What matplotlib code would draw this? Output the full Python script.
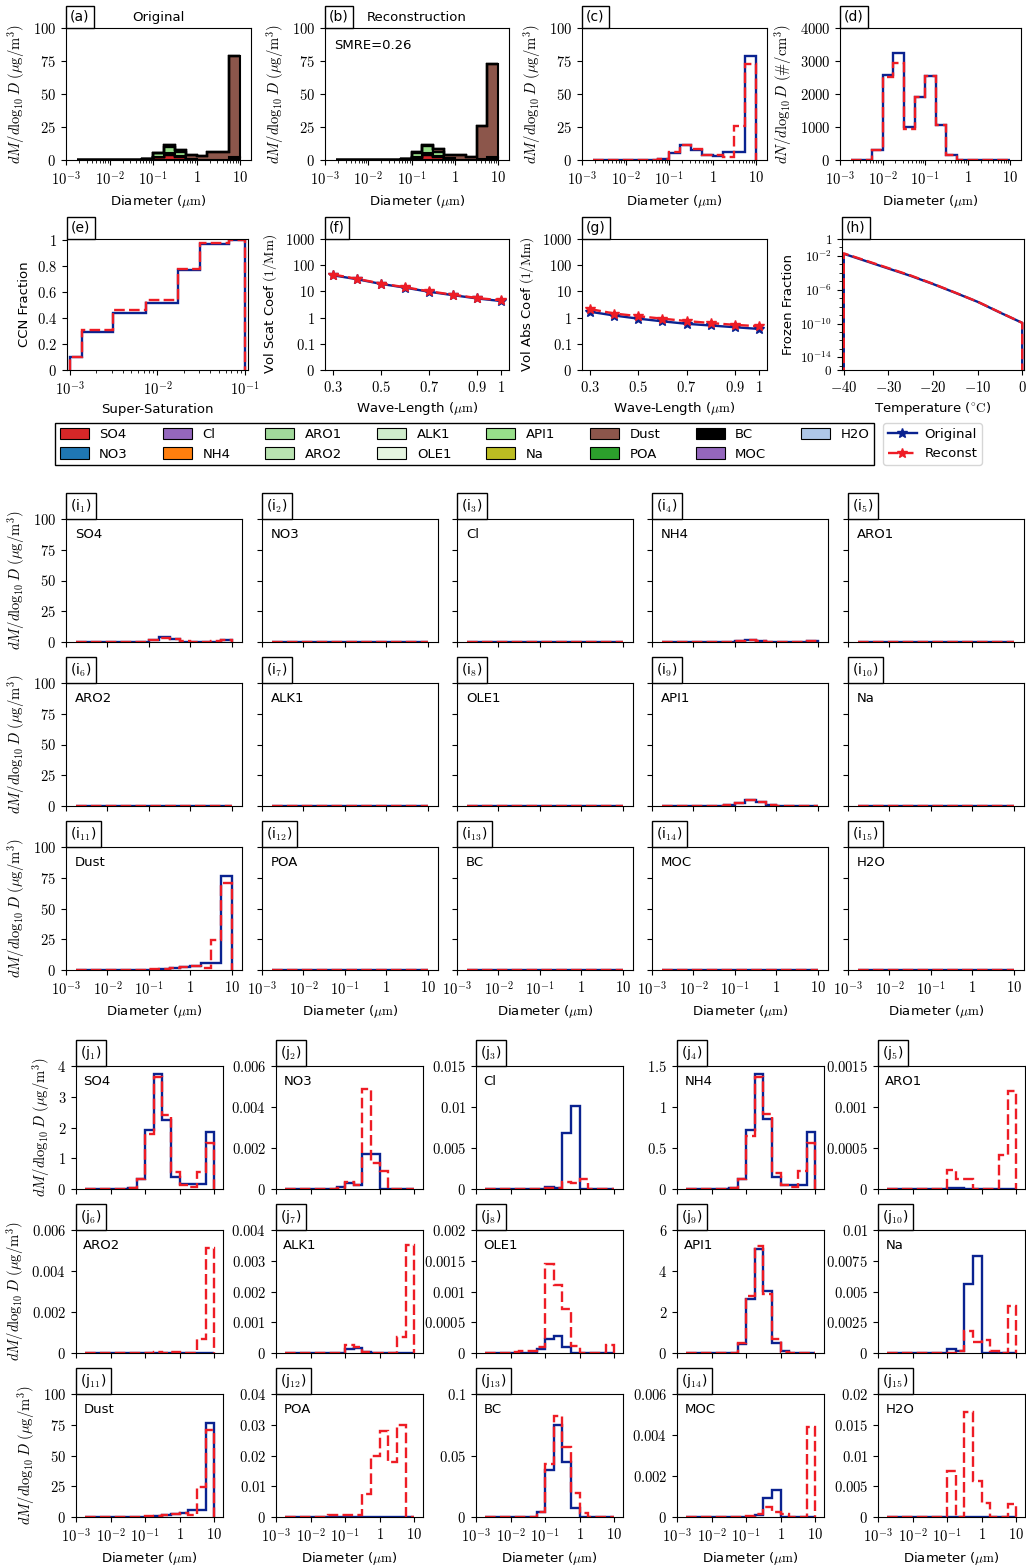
import numpy as np
import matplotlib
matplotlib.use('Agg')
import matplotlib.pyplot as plt
from matplotlib import ticker
from matplotlib.patches import Patch
from matplotlib.lines import Line2D
from matplotlib.offsetbox import AnchoredText

plt.rcParams['font.family'] = 'DejaVu Sans'
plt.rcParams['mathtext.fontset'] = 'cm'
plt.rcParams['font.size'] = 8
plt.rcParams['xtick.labelsize'] = 10.5
plt.rcParams['ytick.labelsize'] = 10.5

W, H = 1026, 1567
BLUE = '#0a2290'
RED = '#ee1c25'

# diameter bins (um): 4 per decade from 10^-2.75 to 10
edges = 10 ** np.linspace(-2.75, 1.0, 16)

species = ['SO4', 'NO3', 'Cl', 'NH4', 'ARO1', 'ARO2', 'ALK1', 'OLE1',
           'API1', 'Na', 'Dust', 'POA', 'BC', 'MOC', 'H2O']
colors = ['#d62728', '#1f77b4', '#9467bd', '#ff7f0e', '#a1d99b', '#b9e3b1',
          '#cfeccb', '#e5f5e0', '#98df8a', '#bcbd22', '#8c564b', '#2ca02c',
          '#000000', '#9467bd', '#aec7e8']

# mass distributions dM/dlog10D per species (ug/m3), original and reconstructed
so4_orig = [0, 0, 0, 0, 0, 0.02, 0.31, 1.93, 3.73, 2.24, 0.40, 0.15, 0.15, 0.15, 1.86]
so4_rec = [0, 0, 0, 0, 0, 0.02, 0.33, 1.80, 3.65, 2.41, 0.56, 0.13, 0.08, 0.56, 1.50]
no3_orig = [0, 0, 0, 0, 0, 0, 0.00008, 0.0003, 0.0002, 0.00169, 0.00169, 0, 0, 0, 0]
no3_rec = [0, 0, 0, 0, 0, 0, 0.00003, 0.00034, 0.0002, 0.0049, 0.00128, 0.0009, 0, 0, 0]
cl_orig = [0, 0, 0, 0, 0, 0, 0, 0.0002, 0.0001, 0.0068, 0.0101, 0, 0, 0, 0]
cl_rec = [0, 0, 0, 0, 0, 0, 0, 0.0001, 0.0001, 0.0008, 0.0007, 0.0012, 0, 0, 0]
nh4_orig = [0, 0, 0, 0, 0, 0.01, 0.12, 0.72, 1.40, 0.85, 0.15, 0.05, 0.05, 0.05, 0.69]
nh4_rec = [0, 0, 0, 0, 0, 0.01, 0.12, 0.65, 1.37, 0.91, 0.20, 0.05, 0.03, 0.22, 0.56]
aro1_orig = [0, 0, 0, 0, 0, 0, 0, 0.00001, 0.00001, 0.000005, 0, 0, 0, 0, 0]
aro1_rec = [0, 0, 0, 0, 0, 0, 0, 0.00023, 0.00012, 0.00012, 0, 0, 0, 0.00041, 0.00119]
aro2_orig = [0, 0, 0, 0, 0, 0, 0, 0.00001, 0.00001, 0, 0, 0, 0, 0, 0]
aro2_rec = [0, 0, 0, 0, 0, 0, 0, 0, 0.00004, 0, 0.00004, 0, 0, 0.0007, 0.0051]
alk1_orig = [0, 0, 0, 0, 0, 0, 0.00001, 0.00013, 0.00015, 0.00004, 0, 0, 0, 0, 0]
alk1_rec = [0, 0, 0, 0, 0, 0, 0.00001, 0.00025, 0.0002, 0.00002, 0, 0, 0, 0.00052, 0.0035]
ole1_orig = [0, 0, 0, 0, 0, 0, 0.00007, 0.00023, 0.00028, 0.0001, 0, 0, 0, 0, 0]
ole1_rec = [0, 0, 0, 0.00002, 0.00003, 0.00003, 0.0001, 0.00145, 0.0011, 0.00072, 0.00012, 0, 0, 0, 0.00013]
api1_orig = [0, 0, 0, 0, 0, 0.02, 0.42, 2.62, 5.09, 3.04, 0.50, 0.11, 0, 0, 0]
api1_rec = [0, 0, 0, 0, 0, 0.02, 0.47, 2.80, 5.22, 2.86, 0.67, 0.06, 0.02, 0, 0]
na_orig = [0, 0, 0, 0, 0, 0, 0, 0.0003, 0.0002, 0.0056, 0.0079, 0, 0, 0, 0]
na_rec = [0, 0, 0, 0, 0, 0, 0, 0, 0.0002, 0.0018, 0.0009, 0.00105, 0.0002, 0, 0.0038]
dust_orig = [0, 0, 0, 0, 0, 0, 0.05, 0.3, 0.8, 1.5, 2.5, 3.0, 5.7, 5.7, 76.4]
dust_rec = [0, 0, 0, 0, 0, 0, 0.1, 0.5, 0.8, 1.9, 2.6, 3.3, 2.0, 24.7, 71.0]
poa_orig = [0] * 15
poa_rec = [0, 0, 0, 0, 0, 0.0005, 0.0008, 0.0006, 0.0005, 0.0075, 0.020, 0.028, 0.018, 0.030, 0]
bc_orig = [0, 0, 0, 0, 0, 0, 0.004, 0.038, 0.0745, 0.045, 0.007, 0, 0, 0, 0]
bc_rec = [0, 0, 0, 0, 0, 0, 0.004, 0.043, 0.082, 0.057, 0.0196, 0.003, 0, 0, 0]
moc_orig = [0, 0, 0, 0, 0, 0, 0, 0.00002, 0.0001, 0.00093, 0.00132, 0, 0, 0, 0]
moc_rec = [0, 0, 0, 0, 0, 0, 0, 0.00003, 0.00015, 0.00047, 0.00023, 0.00013, 0, 0, 0.00437]
h2o_orig = [0] * 15
h2o_rec = [0, 0, 0, 0, 0, 0, 0, 0.0074, 0, 0.017, 0.0059, 0.0022, 0, 0, 0.0021]

mass_orig = [so4_orig, no3_orig, cl_orig, nh4_orig, aro1_orig, aro2_orig, alk1_orig,
             ole1_orig, api1_orig, na_orig, dust_orig, poa_orig, bc_orig, moc_orig, h2o_orig]
mass_rec = [so4_rec, no3_rec, cl_rec, nh4_rec, aro1_rec, aro2_rec, alk1_rec,
            ole1_rec, api1_rec, na_rec, dust_rec, poa_rec, bc_rec, moc_rec, h2o_rec]

# number distribution dN/dlog10D (#/cm3)
num_orig = [0, 0, 314, 2572, 3230, 1013, 1894, 2542, 1053, 152, 10, 0, 0, 0, 0]
num_rec = [0, 0, 300, 2520, 2947, 942, 1894, 2532, 1053, 140, 10, 0, 0, 0, 0]

# CCN activated fraction vs supersaturation
ss_edges = [1e-3, 1.38e-3, 3.1e-3, 7.5e-3, 1.73e-2, 3.1e-2, 6.5e-2, 1e-1]
ccn_orig = [0.10, 0.29, 0.44, 0.52, 0.77, 0.975, 1.0]
ccn_rec = [0.10, 0.31, 0.46, 0.54, 0.775, 0.98, 1.0]

# optical properties (1/Mm)
wavelength = [0.3, 0.4, 0.5, 0.6, 0.7, 0.8, 0.9, 1.0]
scat_orig = [41, 29, 19.3, 13.9, 9.7, 7.2, 5.4, 4.3]
scat_rec = [44, 30, 20, 14.4, 10.1, 7.5, 5.6, 4.6]
abs_orig = [1.66, 1.2, 0.91, 0.72, 0.58, 0.50, 0.43, 0.37]
abs_rec = [2.1, 1.43, 1.13, 0.91, 0.74, 0.62, 0.53, 0.47]

# immersion freezing fraction vs temperature
temps = [-40, -35, -30, -25, -20, -15, -10, -5, 0]
ff_orig = [1.78e-2, 2.4e-3, 3.2e-4, 4.3e-5, 4.7e-6, 4.3e-7, 3.7e-8, 2.0e-9, 1.2e-10]
ff_rec = [2.0e-2, 2.7e-3, 3.6e-4, 4.8e-5, 5.0e-6, 4.5e-7, 3.8e-8, 2.1e-9, 1.2e-10]

MASS_LABEL = r'$dM/d\log_{10}D\ (\mu\mathrm{g/m}^3)$'
DIAM_LABEL = r'Diameter ($\mu\mathrm{m}$)'
DTICKS = [1e-3, 1e-2, 1e-1, 1, 10]
DLABELS = [r'$10^{-3}$', r'$10^{-2}$', r'$10^{-1}$', r'$1$', r'$10$']
LBL = 9.5

fig = plt.figure(figsize=(W / 100, H / 100), dpi=100)


def add_ax(left, top, width, height):
    return fig.add_axes([left / W, 1 - (top + height) / H, width / W, height / H])


def tag(ax, s):
    at = AnchoredText(s, loc='lower left', bbox_to_anchor=(0, 1),
                      bbox_transform=ax.transAxes, borderpad=0, pad=0.3,
                      prop=dict(size=10))
    at.patch.set_boxstyle('square,pad=0')
    at.patch.set_linewidth(1.0)
    at.set_clip_on(False)
    ax.add_artist(at)


num_fmt = ticker.FuncFormatter(lambda v, p: '$%g$' % round(v, 10))


def diam_axis(ax, minor=True, labels=True):
    ax.set_xscale('log')
    ax.set_xlim(1e-3, 10 ** 1.25)
    ax.xaxis.set_major_locator(ticker.FixedLocator(DTICKS))
    if labels:
        ax.xaxis.set_major_formatter(ticker.FixedFormatter(DLABELS))
        ax.set_xlabel(DIAM_LABEL, fontsize=LBL)
    else:
        ax.xaxis.set_major_formatter(ticker.NullFormatter())
    if minor:
        ax.xaxis.set_minor_locator(ticker.LogLocator(base=10, subs=np.arange(2, 10), numticks=20))
    else:
        ax.xaxis.set_minor_locator(ticker.NullLocator())
    ax.xaxis.set_minor_formatter(ticker.NullFormatter())


def pair(ax, x_edges, a, b):
    ax.stairs(a, x_edges, baseline=0, color=BLUE, lw=1.7)
    ax.stairs(b, x_edges, baseline=0, color=RED, lw=1.7, ls=(0, (4.5, 1.8)))


def stacked(ax, parts):
    bottom = np.zeros(len(edges) - 1)
    for vals, c in zip(parts, colors):
        top = bottom + np.asarray(vals)
        ax.stairs(top, edges, baseline=bottom, fill=True, facecolor=c,
                  edgecolor='k', lw=1.5)
        bottom = top


tot_orig = np.sum(mass_orig, axis=0)
tot_rec = np.sum(mass_rec, axis=0)

# ---- row 1: mass and number distributions
top1, h1 = 28, 132
ax_a = add_ax(66, top1, 185, h1)
ax_b = add_ax(325, top1, 184, h1)
ax_c = add_ax(582, top1, 185, h1)
ax_d = add_ax(840, top1, 181, h1)

stacked(ax_a, mass_orig)
ax_a.set_title('Original', fontsize=LBL, pad=5)
stacked(ax_b, mass_rec)
ax_b.set_title('Reconstruction', fontsize=LBL, pad=5)
ax_b.text(0.05, 0.92, 'SMRE=0.26', transform=ax_b.transAxes, va='top', fontsize=LBL)
pair(ax_c, edges, tot_orig, tot_rec)
pair(ax_d, edges, num_orig, num_rec)

for ax, lab in zip([ax_a, ax_b, ax_c, ax_d], ['(a)', '(b)', '(c)', '(d)']):
    diam_axis(ax)
    tag(ax, lab)
    ax.yaxis.set_major_formatter(num_fmt)
for ax in [ax_a, ax_b, ax_c]:
    ax.set_ylim(0, 100)
    ax.set_yticks([0, 25, 50, 75, 100])
    ax.set_ylabel(MASS_LABEL, fontsize=10.5)
ax_d.set_ylim(0, 4000)
ax_d.set_yticks([0, 1000, 2000, 3000, 4000])
ax_d.set_ylabel(r'$dN/d\log_{10}D\ (\#/\mathrm{cm}^3)$', fontsize=10.5)

# ---- row 2: CCN, optics, freezing
top2, h2 = 239, 131
ax_e = add_ax(67, top2, 181, h2)
ax_f = add_ax(325, top2, 184, h2)
ax_g = add_ax(582, top2, 185, h2)
ax_h = add_ax(842, top2, 182, h2)

pair(ax_e, ss_edges, ccn_orig, ccn_rec)
ax_e.set_xscale('log')
ax_e.set_xlim(0.93e-3, 1.08e-1)
ax_e.set_ylim(0, 1.01)
ax_e.set_xticks([1e-3, 1e-2, 1e-1])
ax_e.xaxis.set_major_formatter(ticker.FixedFormatter([r'$10^{-3}$', r'$10^{-2}$', r'$10^{-1}$']))
ax_e.set_yticks([0, 0.2, 0.4, 0.6, 0.8, 1.0])
ax_e.yaxis.set_major_formatter(num_fmt)
ax_e.set_xlabel('Super-Saturation', fontsize=LBL)
ax_e.set_ylabel('CCN Fraction', fontsize=LBL)
tag(ax_e, '(e)')

for ax, yo, yr, lab, yl in [(ax_f, scat_orig, scat_rec, '(f)', r'Vol Scat Coef $(1/\mathrm{Mm})$'),
                            (ax_g, abs_orig, abs_rec, '(g)', r'Vol Abs Coef $(1/\mathrm{Mm})$')]:
    ax.plot(wavelength, yo, color=BLUE, lw=1.7, marker='*', ms=7.5)
    ax.plot(wavelength, yr, color=RED, lw=1.7, ls=(0, (4.5, 1.8)), marker='*', ms=7.5)
    ax.set_yscale('log')
    ax.set_ylim(0.01, 1000)
    ax.yaxis.set_major_locator(ticker.FixedLocator([0.01, 0.1, 1, 10, 100, 1000]))
    ax.yaxis.set_major_formatter(ticker.FixedFormatter(['$0$', '$0.1$', '$1$', '$10$', '$100$', '$1000$']))
    ax.yaxis.set_minor_locator(ticker.NullLocator())
    ax.set_xticks([0.3, 0.5, 0.7, 0.9, 1.0])
    ax.xaxis.set_major_formatter(num_fmt)
    ax.set_xlabel(r'Wave-Length ($\mu\mathrm{m}$)', fontsize=LBL)
    ax.set_ylabel(yl, fontsize=LBL)
    tag(ax, lab)

for ff, c, ls in [(ff_orig, BLUE, '-'), (ff_rec, RED, (0, (4.5, 1.8)))]:
    ax_h.plot([temps[0]] + temps + [temps[-1]], [0] + ff + [0], color=c, lw=1.7, ls=ls)
ax_h.set_yscale('log', nonpositive='clip')
ax_h.set_ylim(10 ** -15.5, 1)
ax_h.set_xlim(-40.4, 0.4)
ax_h.yaxis.set_major_locator(ticker.FixedLocator([10 ** -15.5, 1e-14, 1e-10, 1e-6, 1e-2, 1]))
ax_h.yaxis.set_major_formatter(ticker.FixedFormatter(
    ['$0$', r'$10^{-14}$', r'$10^{-10}$', r'$10^{-6}$', r'$10^{-2}$', '$1$']))
ax_h.yaxis.set_minor_locator(ticker.LogLocator(base=10, subs=(1.0,), numticks=40))
ax_h.yaxis.set_minor_formatter(ticker.NullFormatter())
ax_h.tick_params(axis='y', labelsize=9.5)
ax_h.set_xticks([-40, -30, -20, -10, 0])
ax_h.xaxis.set_major_formatter(num_fmt)
ax_h.set_xlabel(r'Temperature ($^{\circ}\mathrm{C}$)', fontsize=LBL)
ax_h.set_ylabel('Frozen Fraction', fontsize=LBL)
tag(ax_h, '(h)')

# ---- legends
sp_handles = [Patch(facecolor=c, edgecolor='k', lw=0.8) for c in colors]
fig.legend(sp_handles, species, loc='upper left', bbox_to_anchor=(55 / W, 1 - 423 / H),
           ncol=8, fancybox=False, edgecolor='k', framealpha=1, borderaxespad=0,
           handlelength=2.2, handleheight=0.95, columnspacing=2.65, fontsize=9.5,
           borderpad=0.35, labelspacing=0.5)
ln_handles = [Line2D([], [], color=BLUE, lw=1.7, marker='*', ms=7.5),
              Line2D([], [], color=RED, lw=1.7, ls=(0, (4.5, 1.8)), marker='*', ms=7.5)]
fig.legend(ln_handles, ['Original', 'Reconst'], loc='upper left',
           bbox_to_anchor=(883 / W, 1 - 423 / H), borderaxespad=0, fontsize=9.5,
           handlelength=2.2, borderpad=0.35, labelspacing=0.5, handletextpad=0.6)

# ---- i panels: each species on a common 0-100 scale
i_lefts = [66, 262, 457, 652, 848]
i_tops = [519, 683, 847]
j_lefts = [76, 276, 476, 677, 878]
j_tops = [1066, 1230, 1394]
j_ymax = [4, 0.006, 0.015, 1.5, 0.0015, 0.006, 0.004, 0.002, 6, 0.01, 100, 0.04, 0.1, 0.006, 0.02]
j_step = [1, 0.002, 0.005, 0.5, 0.0005, 0.002, 0.001, 0.0005, 2, 0.0025, 25, 0.01, 0.05, 0.002, 0.005]

for k, name in enumerate(species):
    r, cidx = divmod(k, 5)
    ax = add_ax(i_lefts[cidx], i_tops[r], 176, 123)
    pair(ax, edges, mass_orig[k], mass_rec[k])
    diam_axis(ax, minor=False, labels=(r == 2))
    ax.set_ylim(0, 100)
    ax.set_yticks([0, 25, 50, 75, 100])
    if cidx == 0:
        ax.yaxis.set_major_formatter(num_fmt)
        ax.set_ylabel(MASS_LABEL, fontsize=10.5)
    else:
        ax.yaxis.set_major_formatter(ticker.NullFormatter())
    ax.text(0.05, 0.93, name, transform=ax.transAxes, va='top', fontsize=LBL)
    tag(ax, r'(i$_{%d}$)' % (k + 1))

# ---- j panels: each species on its own scale
for k, name in enumerate(species):
    r, cidx = divmod(k, 5)
    ax = add_ax(j_lefts[cidx], j_tops[r], 147, 123)
    pair(ax, edges, mass_orig[k], mass_rec[k])
    diam_axis(ax, minor=False, labels=(r == 2))
    ax.set_ylim(0, j_ymax[k])
    ax.yaxis.set_major_locator(ticker.MultipleLocator(j_step[k]))
    ax.yaxis.set_major_formatter(num_fmt)
    if cidx == 0:
        ax.set_ylabel(MASS_LABEL, fontsize=10.5)
    ax.text(0.05, 0.93, name, transform=ax.transAxes, va='top', fontsize=LBL)
    tag(ax, r'(j$_{%d}$)' % (k + 1))

fig.savefig('out.png', dpi=100)
